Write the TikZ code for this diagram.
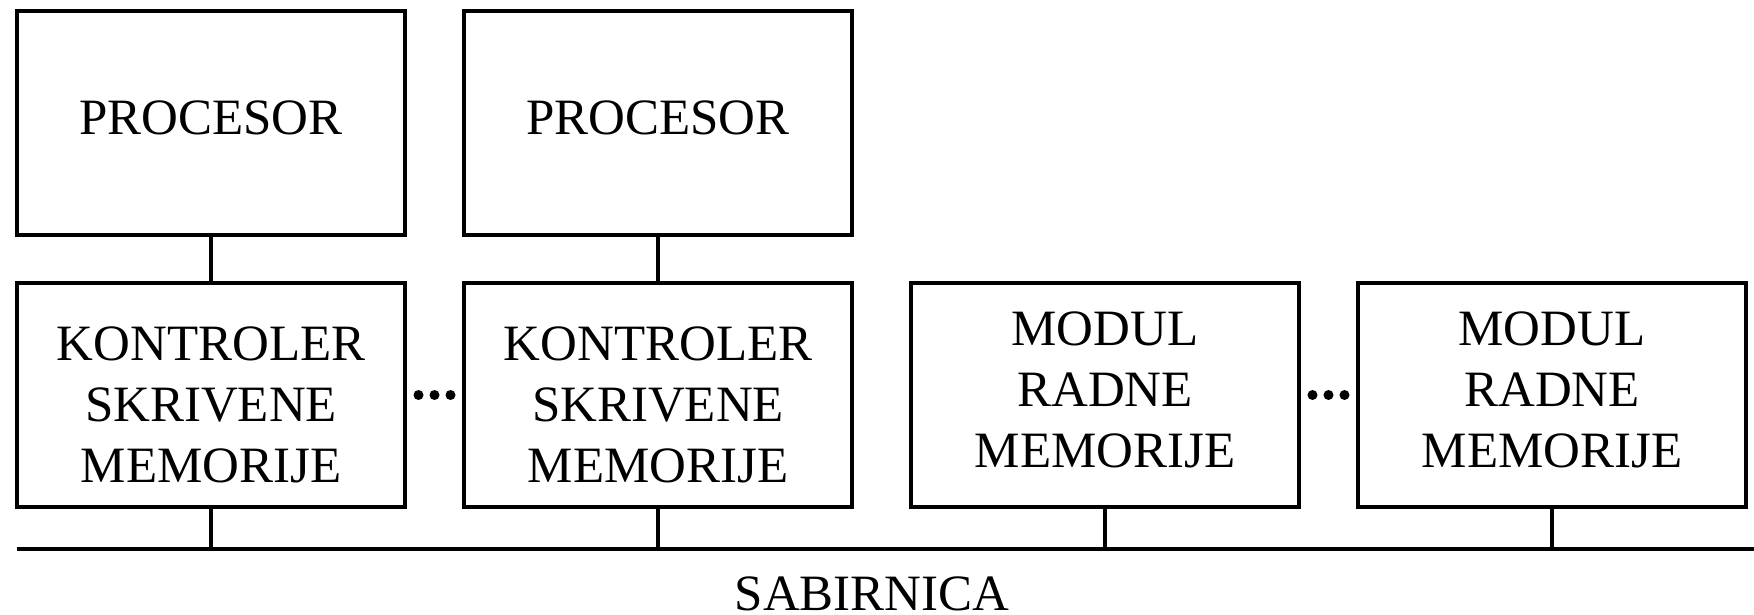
\documentclass[tikz,border=0pt]{standalone}
\usepackage{fontspec}
\setmainfont{Liberation Serif}
\usetikzlibrary{positioning, calc}

\begin{document}
\begin{tikzpicture}[
  node distance=0.48cm and 0.59cm,
  blk/.style={draw, line width=1.2pt, minimum width=3.88cm, minimum height=2.24cm,
    inner sep=0pt, outer sep=0pt, font=\fontsize{14.5}{17.4}\selectfont, align=center},
  low/.style={text height=1.76cm},
  high/.style={text depth=0.11cm},
  wire/.style={line width=1.1pt}
]
  \useasboundingbox (0,0) rectangle (17.54,6.14);

  \node[blk, low] (kont1) at (2.11,2.19) {KONTROLER\\SKRIVENE\\MEMORIJE};
  \node[blk, low, right=of kont1] (kont2) {KONTROLER\\SKRIVENE\\MEMORIJE};
  \node[blk, high, right=of kont2] (mod1) {MODUL\\RADNE\\MEMORIJE};
  \node[blk, high, right=of mod1] (mod2) {MODUL\\RADNE\\MEMORIJE};
  \node[blk, high, above=of kont1] (proc1) {PROCESOR};
  \node[blk, high, above=of kont2] (proc2) {PROCESOR};

  % sabirnica
  \coordinate (busL) at (0.17,0.65);
  \coordinate (busR) at (17.54,0.65);
  \draw[wire] (busL) -- (busR);
  \node[font=\fontsize{14.5}{17.4}\selectfont, anchor=base] (sab) at (8.72,0.04) {SABIRNICA};

  \draw[wire] (proc1) -- (kont1);
  \draw[wire] (proc2) -- (kont2);
  \foreach \b in {kont1, kont2, mod1, mod2}
    \draw[wire] (\b) -- (\b |- busL);

  % tockice izmedju blokova
  \coordinate (dots1) at ($(kont1.east)!0.5!(kont2.west)$);
  \coordinate (dots2) at ($(mod1.east)!0.5!(mod2.west)$);
  \foreach \d in {dots1, dots2}
    \foreach \i in {-1,0,1}
      \fill ($(\d)+(\i*0.16,0)$) circle (0.05);
\end{tikzpicture}
\end{document}
